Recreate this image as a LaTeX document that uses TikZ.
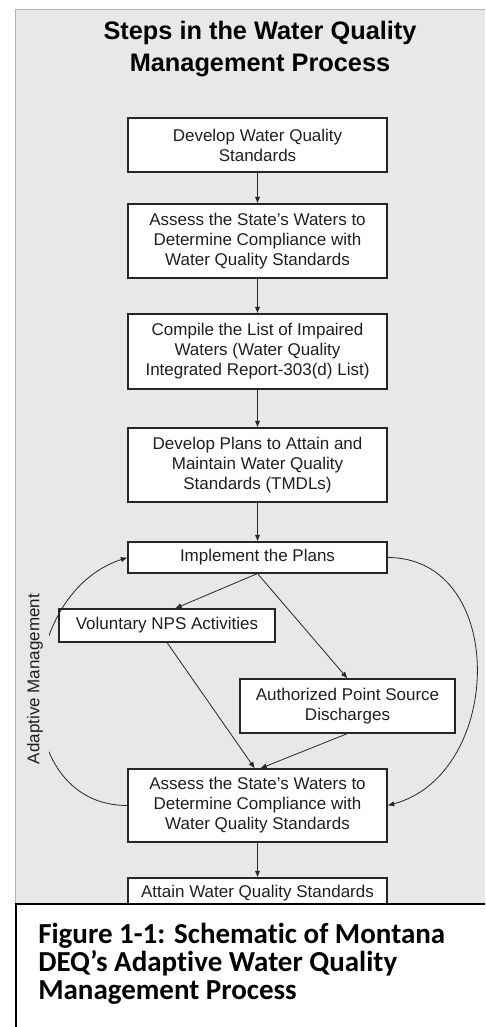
\documentclass[tikz,border=0pt]{standalone}
\usepackage{fontspec}
\setmainfont{Liberation Sans}
\newfontfamily\capfont[Ligatures={TeX,NoCommon}]{Carlito}
\usepackage{xcolor}
\usetikzlibrary{positioning}
\usetikzlibrary{arrows.meta}

\definecolor{panel}{gray}{0.91}
\definecolor{ink}{gray}{0.12}

\begin{document}
\begin{tikzpicture}[
		x=0.75pt, y=-0.75pt,
		box/.style = {rectangle, draw=black!85, fill=white, line width=0.8pt, text=ink, align=center, font=\fontsize{12.75}{15}\selectfont, minimum width=194.25pt, inner sep=0pt},
		arr/.style = {-{Latex[length=5pt, width=4pt]}, line width=0.6pt, draw=black!85},
		amlabel/.style = {rotate=90, fill=panel, text=ink, font=\fontsize{12.75}{15}\selectfont, inner xsep=0pt, inner ysep=4.5pt}
		]
		
		\useasboundingbox (0,0) rectangle (485,1027);
		\clip (0,0) rectangle (485,1027);
		
		%Background
		\fill[white] (0,0) rectangle (485,1027);
		\draw[draw=black!30, fill=panel, line width=1pt] (15.5,9.5) rectangle (495,910);
		
		%Title
		\node[font=\bfseries\fontsize{19}{24}\selectfont, align=center, anchor=north, inner sep=0pt] (title) at (260,21) {Steps in the Water Quality\\Management Process};
		
		%Nodes
		\node[box, minimum height=40.5pt]	(dev)	at	(257.5,145)		{Develop Water Quality\\Standards};
		\node[box, minimum height=55.5pt]	(as1)	at	(257.5,241)		{Assess the State's Waters to\\Determine Compliance with\\Water Quality Standards};
		\node[box, minimum height=56.25pt]	(list)	at	(257.5,351.5)	{Compile the List of Impaired\\Waters (Water Quality\\Integrated Report-303(d) List)};
		\node[box, minimum height=55.5pt]	(plan)	at	(257.5,465)		{Develop Plans to Attain and\\Maintain Water Quality\\Standards (TMDLs)};
		\node[box, minimum height=23.25pt]	(impl)	at	(257.5,557.5)	{Implement the Plans};
		\node[box, minimum height=24.75pt, minimum width=162pt]	(vol)	at	(167,625.5)	{Voluntary NPS Activities};
		\node[box, minimum height=40.5pt, minimum width=161.25pt]	(auth)	at	(347.5,706)	{Authorized Point Source\\Discharges};
		\node[box, minimum height=54.75pt]	(as2)	at	(257.5,805.5)	{Assess the State's Waters to\\Determine Compliance with\\Water Quality Standards};
		\node[box, minimum height=23.25pt]	(att)	at	(257.5,893.5)	{Attain Water Quality Standards};
		
		%Lines
		\draw[arr]	(dev.south)		--	(as1.north);
		\draw[arr]	(as1.south)		--	(list.north);
		\draw[arr]	(list.south)	--	(plan.north);
		\draw[arr]	(plan.south)	--	(impl.north);
		\draw[arr]	(impl.south)	--	([xshift=6pt]vol.north);
		\draw[arr]	(impl.south)	--	(auth.north);
		\draw[arr]	(vol.south)		--	([xshift=-2pt]as2.north);
		\draw[arr]	(auth.south)	--	([xshift=2pt]as2.north);
		\draw[arr]	(as2.south)		--	(att.north);
		\draw[arr]	(as2.west)	to[out=180, in=198, looseness=1.25]	(impl.west);
		\draw[arr]	(impl.east)	to[out=0, in=15, looseness=1.25]	(as2.east);
		
		%Labels
		\node[amlabel]	(am)	at	(35,679)	{Adaptive Management};
		
		%Caption
		\draw[line width=1.5pt, fill=white] (16,903.5) rectangle (500,1040);
		\node[font=\capfont\bfseries\fontsize{21.75}{21}\selectfont, align=left, anchor=north west, inner sep=0pt] (cap) at (38,923) {Figure 1-1: Schematic of Montana\\DEQ’s Adaptive Water Quality\\Management Process};
	\end{tikzpicture}
\end{document}
